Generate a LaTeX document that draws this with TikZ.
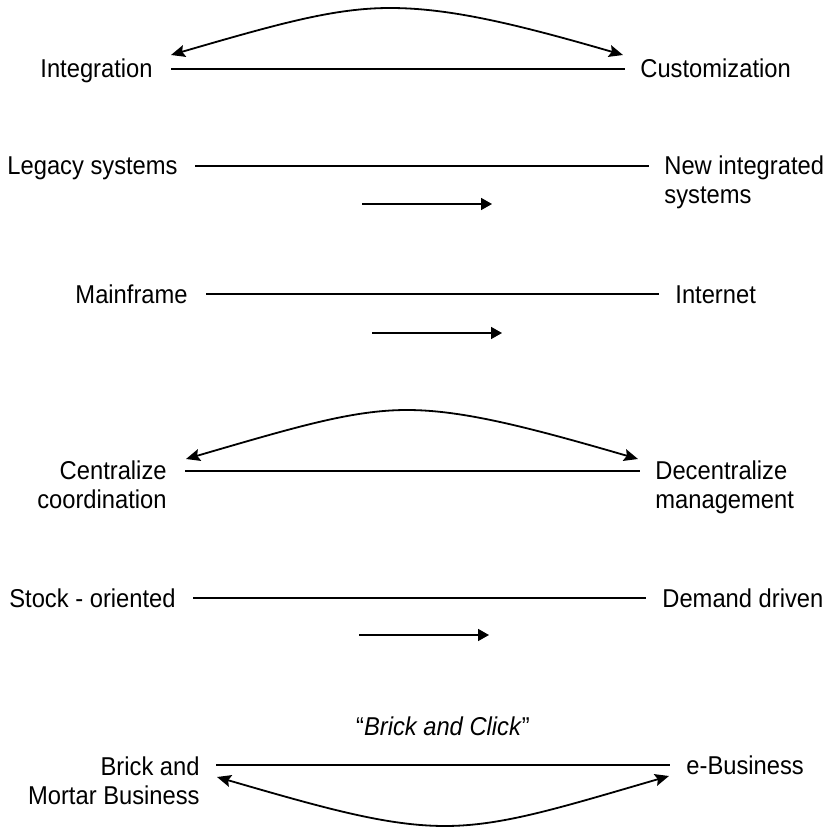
\documentclass[tikz,border=0pt]{standalone}
\usepackage{fontspec}
\setmainfont{Liberation Sans}[FakeStretch=0.92]
\usetikzlibrary{arrows.meta}
\begin{document}
\begin{tikzpicture}[x=0.5pt,y=-0.5pt,
  lbl/.style={inner sep=0pt, font=\fontsize{12.9}{14.5}\selectfont},
  bar/.style={line width=0.7pt},
  moveto/.style={line width=0.8pt,-{Triangle[length=5.5pt,width=6pt]}},
  swing/.style={line width=0.9pt,{Stealth[length=7pt,width=6pt,inset=1.2pt]}-{Stealth[length=7pt,width=6pt,inset=1.2pt]}}]
\useasboundingbox (0,0) rectangle (831,829);

% Row 1: Integration -- Customization
\node[lbl, anchor=base east] (int) at (153,78) {Integration};
\node[lbl, anchor=base west] (cus) at (640,78) {Customization};
\coordinate (r1a) at (171,69);
\coordinate (r1b) at (625,69);
\coordinate (r1c) at (171,55);
\coordinate (r1d) at (623,55);
\coordinate (r1top) at (390,8);
\draw[bar] (r1a) -- (r1b);
\draw[swing] (r1c) .. controls (281,23) and (335,8) .. (r1top)
              .. controls (448,8) and (513,23) .. (r1d);

% Row 2: Legacy systems -- New integrated systems
\node[lbl, anchor=base east] (leg) at (178,175) {Legacy systems};
\node[lbl, anchor=base west, align=left] (nis) at (664,203.5) {New integrated\\systems};
\coordinate (r2a) at (195,166);
\coordinate (r2b) at (649,166);
\coordinate (r2c) at (362,204);
\coordinate (r2d) at (492,204);
\draw[bar] (r2a) -- (r2b);
\draw[moveto] (r2c) -- (r2d);

% Row 3: Mainframe -- Internet
\node[lbl, anchor=base east] (mf) at (188,303) {Mainframe};
\node[lbl, anchor=base west] (inet) at (675,303) {Internet};
\coordinate (r3a) at (206,294);
\coordinate (r3b) at (659,294);
\coordinate (r3c) at (372,333);
\coordinate (r3d) at (502,333);
\draw[bar] (r3a) -- (r3b);
\draw[moveto] (r3c) -- (r3d);

% Row 4: Centralize coordination -- Decentralize management
\node[lbl, anchor=base east, align=right] (cen) at (167,508.5) {Centralize\\coordination};
\node[lbl, anchor=base west, align=left] (dec) at (655,508.5) {Decentralize\\management};
\coordinate (r4a) at (185,471);
\coordinate (r4b) at (640,471);
\coordinate (r4c) at (186,459);
\coordinate (r4d) at (638,459);
\coordinate (r4top) at (407,410);
\draw[bar] (r4a) -- (r4b);
\draw[swing] (r4c) .. controls (296,427) and (352,410) .. (r4top)
              .. controls (462,410) and (528,427) .. (r4d);

% Row 5: Stock - oriented -- Demand driven
\node[lbl, anchor=base east] (sto) at (176,607) {Stock - oriented};
\node[lbl, anchor=base west] (dem) at (662,607) {Demand driven};
\coordinate (r5a) at (193,598);
\coordinate (r5b) at (646,598);
\coordinate (r5c) at (359,635);
\coordinate (r5d) at (489,635);
\draw[bar] (r5a) -- (r5b);
\draw[moveto] (r5c) -- (r5d);

% Row 6: Brick and Mortar Business -- e-Business
\node[lbl, anchor=base] (bac) at (443,735) {``\textit{Brick and Click}''};
\node[lbl, anchor=base east, align=right] (bmb) at (200,804.5) {Brick and\\Mortar Business};
\node[lbl, anchor=base west] (ebu) at (686,774.5) {e-Business};
\coordinate (r6a) at (216,765);
\coordinate (r6b) at (670,765);
\coordinate (r6c) at (217,777);
\coordinate (r6d) at (669,776);
\coordinate (r6bot) at (445,826);
\draw[bar] (r6a) -- (r6b);
\draw[swing] (r6c) .. controls (327,809) and (388,826) .. (r6bot)
              .. controls (502,826) and (559,808) .. (r6d);
\end{tikzpicture}
\end{document}
